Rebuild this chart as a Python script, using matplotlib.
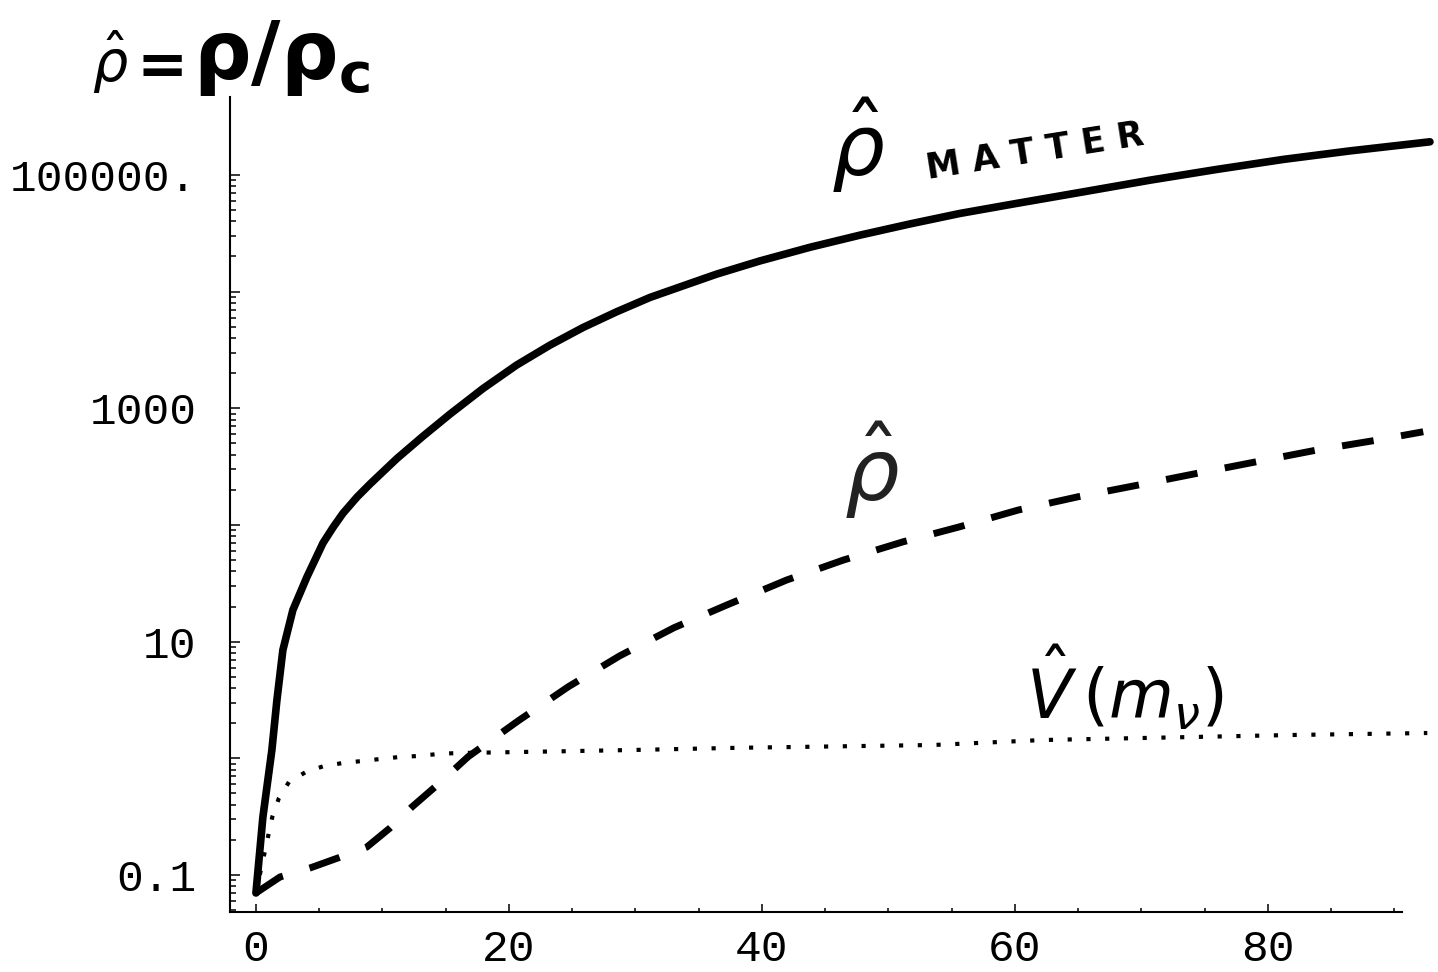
import numpy as np
import matplotlib
matplotlib.use("Agg")
import matplotlib.pyplot as plt
from matplotlib.ticker import FixedLocator, FixedFormatter

# values (x, log10 of rho-hat)
matter_x = [0, 0.55, 1.26, 1.66, 2.13, 2.92, 4.03, 5.30, 6.1, 6.88, 8.0, 9.01, 11.15, 13.2,
            15.34, 17.97, 20.6, 23.24, 25.87, 28.51, 31.15, 33.78, 36.42, 39.84,
            43.8, 47.75, 51.7, 55.65, 60.13, 65.4, 70.67, 75.94, 81.21, 86.48, 92.81]
matter_log = [-1.154, -0.503, 0.071, 0.50, 0.928, 1.271, 1.554, 1.845, 1.98, 2.10, 2.24, 2.35,
              2.57, 2.76,
              2.95, 3.171, 3.370, 3.541, 3.693, 3.827, 3.95, 4.05, 4.15, 4.263,
              4.38, 4.484, 4.58, 4.67, 4.756, 4.855, 4.955, 5.047, 5.133, 5.206, 5.284]

nu_x = [0, 1.9, 4.27, 6.48, 8.77, 10.6, 12.33, 14.15, 16.78, 20.74,
        24.7, 28.77, 33.04, 37.2, 41.95, 46.43, 51.17, 55.65, 60.26, 65.0,
        69.74, 74.37, 79.1, 83.85, 88.6, 92.28]
nu_log = [-1.154, -1.017, -0.94, -0.854, -0.76, -0.597, -0.417, -0.246, 0.014, 0.322,
          0.614, 0.879, 1.119, 1.313, 1.528, 1.699, 1.856, 1.985, 2.128, 2.242,
          2.342, 2.442, 2.542, 2.642, 2.727, 2.799]

pot_x = [0, 0.8, 1.3, 1.82, 2.61, 3.95, 5.38, 6.88, 8.38, 9.8, 11.3, 12.8, 14.4, 15.8,
         24.0, 30.0, 38.0, 47.5, 53.5, 62.2, 81.9, 92.6]
pot_log = [-1.154, -0.75, -0.5, -0.34, -0.203, -0.117, -0.066, -0.04, -0.023, -0.006, 0.011,
           0.02, 0.037, 0.045, 0.06, 0.072, 0.09, 0.105, 0.114, 0.157, 0.2, 0.217]

x_major = [0, 20, 40, 60, 80]
y_major = [0.1, 1, 10, 100, 1000, 10000, 100000]
y_labels = ["0.1", "", "10", "", "1000", "", "100000."]

fig = plt.figure(figsize=(14.38, 9.72), dpi=100)
ax = fig.add_axes([230/1438, 60/972, 1172/1438, 815/972])

ax.plot(matter_x, 10**np.array(matter_log), color="black", lw=5.5, clip_on=False,
        solid_capstyle="round", solid_joinstyle="round")
ax.plot(nu_x, 10**np.array(nu_log), color="black", lw=5, clip_on=False,
        linestyle=(0, (4.6, 4.0)))
ax.plot(pot_x, 10**np.array(pot_log), color="black", lw=3, clip_on=False,
        linestyle=(0, (1, 3.5)))

ax.set_yscale("log")
ax.set_xlim(-2.05, 90.6)
ax.set_ylim(10**-1.317, 10**5.668)

for s in ["top", "right"]:
    ax.spines[s].set_visible(False)
for s in ["left", "bottom"]:
    ax.spines[s].set_linewidth(1.5)

ax.xaxis.set_major_locator(FixedLocator(x_major))
ax.xaxis.set_minor_locator(FixedLocator(np.arange(0, 91, 5)))
ax.yaxis.set_major_locator(FixedLocator(y_major))
ax.yaxis.set_major_formatter(FixedFormatter(y_labels))
minor_y = [m * 10.0**e for e in range(-2, 5) for m in range(2, 10)]
ax.yaxis.set_minor_locator(FixedLocator(minor_y))
ax.yaxis.set_minor_formatter(FixedFormatter([""] * len(minor_y)))

ax.tick_params(which="both", direction="in", width=1.1, color="black")
ax.tick_params(axis="x", which="major", length=5.5, pad=12)
ax.tick_params(axis="x", which="minor", length=3)
ax.tick_params(axis="y", which="major", length=7.5, pad=24)
ax.tick_params(axis="y", which="minor", length=4)
for lab in ax.get_xticklabels() + ax.get_yticklabels():
    lab.set_fontfamily("Liberation Mono")
    lab.set_fontsize(32)

# handwritten notes
fig.text(110/1438, 1 - 62/972, r"$\hat{\rho}$", fontsize=40, ha="center", va="center")
fig.text(162/1438, 1 - 68/972, "=", fontsize=44, fontweight="heavy", ha="center", va="center")
fig.text(282/1438, 1 - 58/972, r"$\mathbf{\rho/\rho_c}$", fontsize=58,
         ha="center", va="center")

fig.text(858/1438, 1 - 145/972, r"$\hat{\rho}$", fontsize=60, ha="center", va="center")
fig.text(1035/1438, 1 - 152/972, "M A T T E R", fontsize=25, fontweight="bold",
         rotation=9, ha="center", va="center")

fig.text(872/1438, 1 - 470/972, r"$\hat{\rho}$", fontsize=62, ha="center", va="center",
         color="#222222")

fig.text(1125/1438, 1 - 688/972, r"$\hat{V}\,(m_\nu)$", fontsize=48,
         fontweight="bold", ha="center", va="center")

fig.savefig("out.png", dpi=100, facecolor="white")
